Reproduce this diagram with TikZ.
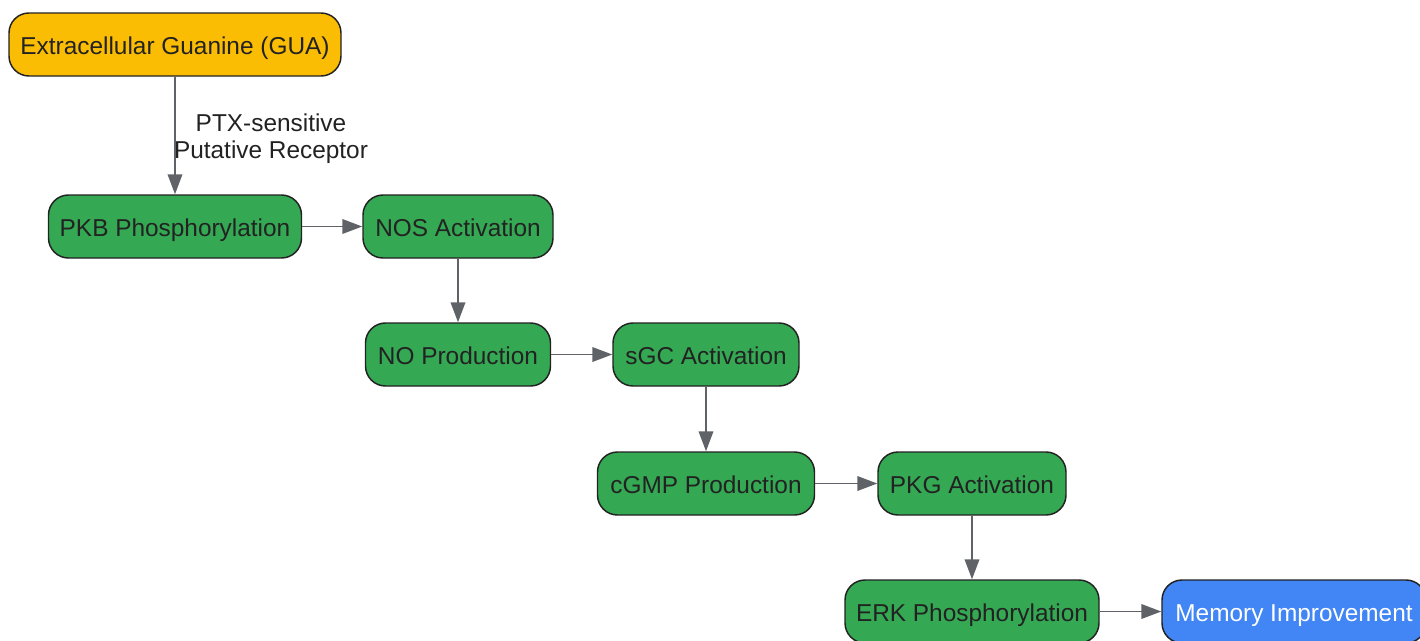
\documentclass[tikz,border=0pt]{standalone}
\usepackage{fontspec}
\setmainfont{Liberation Sans}
\usetikzlibrary{arrows.meta}
\definecolor{txt}{HTML}{222222}
\definecolor{edge}{HTML}{5F6368}
\definecolor{gfill}{HTML}{34A853}
\definecolor{yfill}{HTML}{FBBC04}
\definecolor{bfill}{HTML}{4285F4}
\begin{document}
\begin{tikzpicture}[x=0.75pt,y=-0.75pt,
  box/.style={draw=txt, line width=1.1pt, rounded corners=15pt, inner sep=0pt,
    minimum height=47.25pt, text=txt, font=\fontsize{18.3}{20}\selectfont,
    text height=15pt, text depth=0pt},
  gbox/.style={box, fill=gfill},
  conn/.style={draw=edge, line width=1.2pt, -{Triangle[length=15pt,width=11pt]}},
  lbl/.style={text=txt, font=\fontsize{18.3}{20}\selectfont, align=center}]
\useasboundingbox (0,0) rectangle (1420,640);
\node[box, fill=yfill, minimum width=249pt] (gua) at (175,44.5) {Extracellular Guanine (GUA)};
\node[gbox, minimum width=189.75pt] (pkb) at (175,226.5) {PKB Phosphorylation};
\node[gbox, minimum width=142.5pt] (nos) at (458,226.5) {NOS Activation};
\node[gbox, minimum width=138.75pt] (no) at (458,354.5) {NO Production};
\node[gbox, minimum width=139.5pt] (sgc) at (706,354.5) {sGC Activation};
\node[gbox, minimum width=162.75pt] (cgmp) at (706,483.5) {cGMP Production};
\node[gbox, minimum width=141pt] (pkg) at (972,483.5) {PKG Activation};
\node[gbox, minimum width=190.5pt] (erk) at (972,611.5) {ERK Phosphorylation};
\node[box, fill=bfill, text=white, minimum width=198pt] (mem) at (1294,611.5) {Memory Improvement};
\node[lbl] (rcp) at (271,139) {PTX-sensitive\\Putative Receptor};
\draw[conn] (gua.south) -- (pkb.north);
\draw[conn] (pkb) -- (nos);
\draw[conn] (nos) -- (no);
\draw[conn] (no) -- (sgc);
\draw[conn] (sgc) -- (cgmp);
\draw[conn] (cgmp) -- (pkg);
\draw[conn] (pkg) -- (erk);
\draw[conn] (erk) -- (mem);
\end{tikzpicture}
\end{document}
